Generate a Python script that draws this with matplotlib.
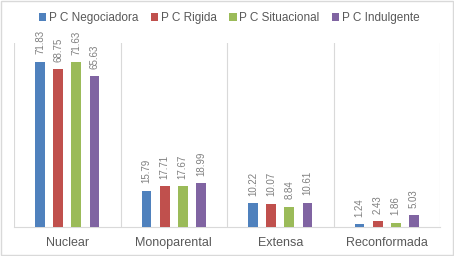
import numpy as np
import matplotlib.pyplot as plt
from matplotlib.patches import Rectangle

plt.rcParams['font.family'] = ['Liberation Sans', 'DejaVu Sans']

categories = ["Nuclear", "Monoparental", "Extensa", "Reconformada"]
series = ["P C Negociadora", "P C Rigida", "P C Situacional", "P C Indulgente"]
negociadora = [71.83, 15.79, 10.22, 1.24]
rigida = [68.75, 17.71, 10.07, 2.43]
situacional = [71.63, 17.67, 8.84, 1.86]
indulgente = [65.63, 18.99, 10.61, 5.03]
colors = ["#4F81BD", "#C0504D", "#9BBB59", "#8064A2"]

values = [negociadora, rigida, situacional, indulgente]

fig = plt.figure(figsize=(4.54, 2.56), dpi=100)
ax = fig.add_axes([14/454, 29/256, 426/454, 184/256])

x = np.arange(len(categories))
width = 0.092
step = 0.17
for i, (name, vals, c) in enumerate(zip(series, values, colors)):
    pos = x + (i - 1.5) * step
    ax.bar(pos, vals, width, color=c, label=name, zorder=3)
    for p, v in zip(pos, vals):
        ax.text(p, v + 3.2, "%.2f" % v, rotation=90, ha="center", va="bottom",
                fontsize=7, color="#7F7F7F", clip_on=False)

ax.set_xlim(-0.5, len(categories) - 0.5)
ax.set_ylim(0, 80)
ax.set_yticks([])
ax.set_xticks(x)
ax.set_xticklabels(categories, fontsize=9, color="#595959")
ax.tick_params(axis="x", length=0, pad=7)
for b in np.arange(-0.5, len(categories), 1.0):
    ax.axvline(b, color="#D9D9D9", lw=0.8, zorder=1)
for s in ["top", "right", "left"]:
    ax.spines[s].set_visible(False)
ax.spines["bottom"].set_color("#D9D9D9")

fig.legend(loc="center", bbox_to_anchor=(0.505, 0.93), ncol=4, frameon=False,
           fontsize=8.5, handlelength=0.6, handleheight=0.6, handletextpad=0.2,
           columnspacing=1.1, labelcolor="#595959")

fig.patches.append(Rectangle((0.002, 0.004), 0.996, 0.992, transform=fig.transFigure,
                             fill=False, edgecolor="#D9D9D9", lw=1))

fig.savefig("out.png", dpi=100)
